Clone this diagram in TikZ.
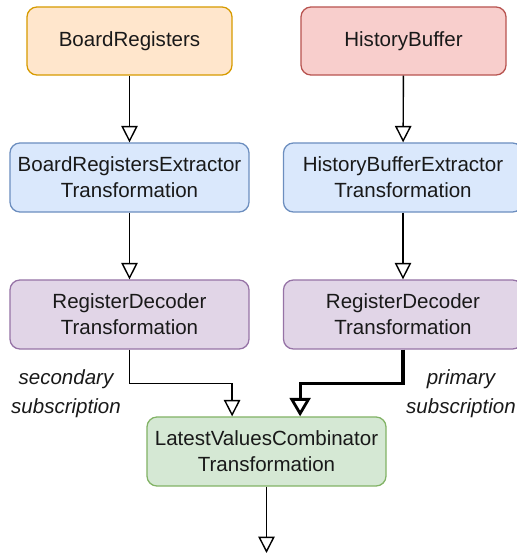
\documentclass[tikz,border=0pt]{standalone}
\usepackage{fontspec}
\setmainfont{Liberation Sans}
\usetikzlibrary{arrows.meta, positioning}

\definecolor{orangeFill}{HTML}{FFE6CC}
\definecolor{orangeLine}{HTML}{D79B00}
\definecolor{redFill}{HTML}{F8CECC}
\definecolor{redLine}{HTML}{B85450}
\definecolor{blueFill}{HTML}{DAE8FC}
\definecolor{blueLine}{HTML}{6C8EBF}
\definecolor{purpleFill}{HTML}{E1D5E7}
\definecolor{purpleLine}{HTML}{9673A6}
\definecolor{greenFill}{HTML}{D5E8D4}
\definecolor{greenLine}{HTML}{82B366}

\tikzset{
  box/.style={draw, rounded corners=0.25cm, minimum width=5.975cm, minimum height=1.725cm,
    align=center, line width=0.9pt, text=black!90, font=\fontsize{14.6}{18.3}\selectfont},
  source/.style={box, minimum width=5.125cm, minimum height=1.7cm},
  flow/.style={line width=1pt, -{Triangle[open, length=0.41cm, width=0.41cm]}},
  primaryflow/.style={line width=2.2pt, -{Triangle[open, length=0.46cm, width=0.52cm, line width=2pt]}},
  note/.style={align=center, text=black!90, font=\fontsize{14.6}{20.5}\selectfont\itshape}
}

\begin{document}
\begin{tikzpicture}[x=0.025cm, y=-0.025cm]
        \useasboundingbox (0,0) rectangle (517,554);

        % Quellen
        \node[source, fill=orangeFill, draw=orangeLine] (board) at (129.5,41) {BoardRegisters};
        \node[source, fill=redFill, draw=redLine] (history) at (403.5,41) {HistoryBuffer};

        % Extraktoren
        \node[box, fill=blueFill, draw=blueLine] (boardExt) at (129.5,177.5) {BoardRegistersExtractor\\Transformation};
        \node[box, fill=blueFill, draw=blueLine] (historyExt) at (403,177.5) {HistoryBufferExtractor\\Transformation};

        % Decoder
        \node[box, fill=purpleFill, draw=purpleLine] (boardDec) at (129.5,314.5) {RegisterDecoder\\Transformation};
        \node[box, fill=purpleFill, draw=purpleLine] (historyDec) at (403,314.5) {RegisterDecoder\\Transformation};

        % Kombinator
        \node[box, fill=greenFill, draw=greenLine] (combinator) at (266.5,451.5) {LatestValuesCombinator\\Transformation};
        \coordinate (out) at (266.5,553);

        % Verbindungen
        \draw[flow] (board) -- (boardExt);
        \draw[flow] (history) -- (historyExt);
        \draw[flow] (boardExt) -- (boardDec);
        \draw[flow] (historyExt) -- (historyDec);
        \draw[flow] (boardDec.south) -- ++(0,34) -| ([xshift=-0.86cm]combinator.north);
        \draw[primaryflow] (historyDec.south) -- ++(0,34) -| ([xshift=0.84cm]combinator.north);
        \draw[flow] (combinator) -- (out);

        % Beschriftungen
        \node[note] (secondaryLabel) at (66,394) {secondary\\subscription};
        \node[note] (primaryLabel) at (461,394) {primary\\subscription};
      \end{tikzpicture}
\end{document}
